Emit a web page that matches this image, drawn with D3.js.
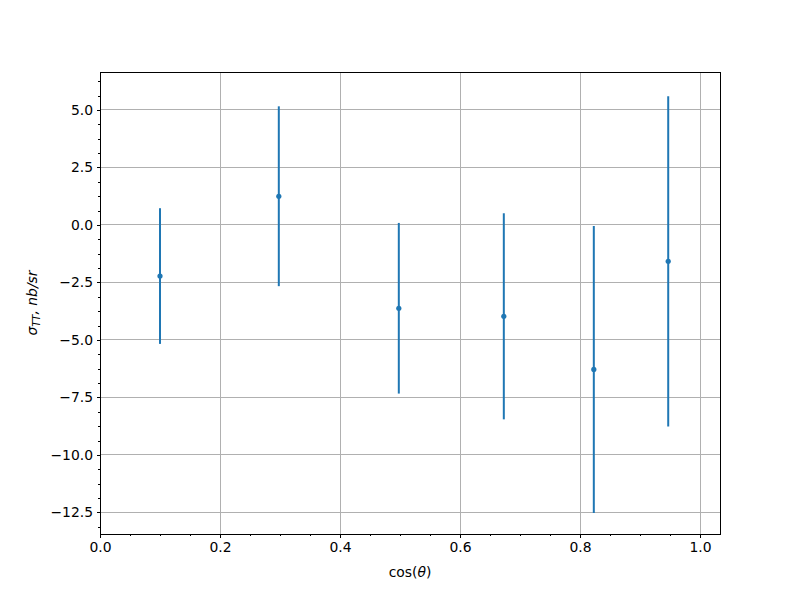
<!DOCTYPE html>
<html><head><meta charset="utf-8">
<script src="https://cdn.jsdelivr.net/npm/d3@7"></script>
<style>body{margin:0;background:#fff}svg{display:block}text{font-family:"DejaVu Sans",sans-serif}</style>
</head><body>
<svg id="c" width="800" height="600"></svg>
<script>
const cosTheta = [0.1, 0.298, 0.498, 0.673, 0.823, 0.947];
const sigma = [-2.22, 1.25, -3.62, -3.97, -6.28, -1.58];
const errs = [2.95, 3.91, 3.71, 4.48, 6.24, 7.18];
const xTicks = [0.0, 0.2, 0.4, 0.6, 0.8, 1.0];
const yTicks = [5.0, 2.5, 0.0, -2.5, -5.0, -7.5, -10.0, -12.5];

const svg = d3.select("#c");
const L = 100, R = 720, T = 72, B = 534;
const x = d3.scaleLinear().domain([0, 1.0333]).range([L, R]);
const y = d3.scaleLinear().domain([-13.435, 6.652]).range([B, T]);
const color = "#1f77b4";
const fs = "13.9px";

// grid
const g = svg.append("g").attr("shape-rendering", "crispEdges");
g.selectAll("line.gx").data(xTicks).join("line")
  .attr("x1", d => x(d)).attr("x2", d => x(d)).attr("y1", T).attr("y2", B)
  .attr("stroke", "#b0b0b0").attr("stroke-width", 1);
g.selectAll("line.gy").data(yTicks).join("line")
  .attr("y1", d => y(d)).attr("y2", d => y(d)).attr("x1", L).attr("x2", R)
  .attr("stroke", "#b0b0b0").attr("stroke-width", 1);

// axes
const fmt = d => d3.format(".1f")(d).replace("-", "\u2212");
const xMinor = d3.range(0, 1.04, 0.05).filter(v => v <= 1.0333);
const yMinor = d3.range(-13.125, 6.7, 0.625);

const xAxis = svg.append("g").attr("transform", `translate(0,${B})`)
  .call(d3.axisBottom(x).tickValues(xTicks).tickFormat(fmt).tickSize(3.5).tickPadding(3.5));
const xAxisMinor = svg.append("g").attr("transform", `translate(0,${B})`)
  .call(d3.axisBottom(x).tickValues(xMinor).tickFormat("").tickSize(2));
const yAxis = svg.append("g").attr("transform", `translate(${L},0)`)
  .call(d3.axisLeft(y).tickValues(yTicks).tickFormat(fmt).tickSize(3.5).tickPadding(3.5));
const yAxisMinor = svg.append("g").attr("transform", `translate(${L},0)`)
  .call(d3.axisLeft(y).tickValues(yMinor).tickFormat("").tickSize(2));
[xAxis, xAxisMinor, yAxis, yAxisMinor].forEach(a => {
  a.select(".domain").remove();
  a.selectAll("line").attr("stroke", "#000").attr("stroke-width", 1).attr("shape-rendering", "crispEdges");
  a.selectAll("text").attr("font-size", fs).attr("fill", "#000").style("font-family", '"DejaVu Sans", sans-serif');
});
xAxis.selectAll("text").attr("dy", "0.8em");

// error bars
const pts = cosTheta.map((c, i) => ({c, s: sigma[i], e: errs[i]}));
svg.append("g").selectAll("line").data(pts).join("line")
  .attr("x1", d => x(d.c)).attr("x2", d => x(d.c))
  .attr("y1", d => y(d.s - d.e)).attr("y2", d => y(d.s + d.e))
  .attr("stroke", color).attr("stroke-width", 2);
svg.append("g").selectAll("circle").data(pts).join("circle")
  .attr("cx", d => x(d.c)).attr("cy", d => y(d.s)).attr("r", 2.6).attr("fill", color);

// frame
svg.append("rect").attr("x", L).attr("y", T).attr("width", R - L).attr("height", B - T)
  .attr("fill", "none").attr("stroke", "#000").attr("stroke-width", 1).attr("shape-rendering", "crispEdges");

// labels
const xl = svg.append("text").attr("x", (L + R) / 2).attr("y", 577).attr("text-anchor", "middle").attr("font-size", fs);
xl.append("tspan").text("cos(");
xl.append("tspan").attr("font-style", "italic").text("\u03b8");
xl.append("tspan").text(")");

const yl = svg.append("text").attr("transform", `translate(37,${(T + B) / 2}) rotate(-90)`)
  .attr("text-anchor", "middle").attr("font-size", fs).attr("font-style", "italic");
yl.append("tspan").text("\u03c3");
yl.append("tspan").attr("font-size", "10px").attr("dy", "3").text("TT");
yl.append("tspan").attr("dy", "-3").text(", nb/sr");
</script>
</body></html>
